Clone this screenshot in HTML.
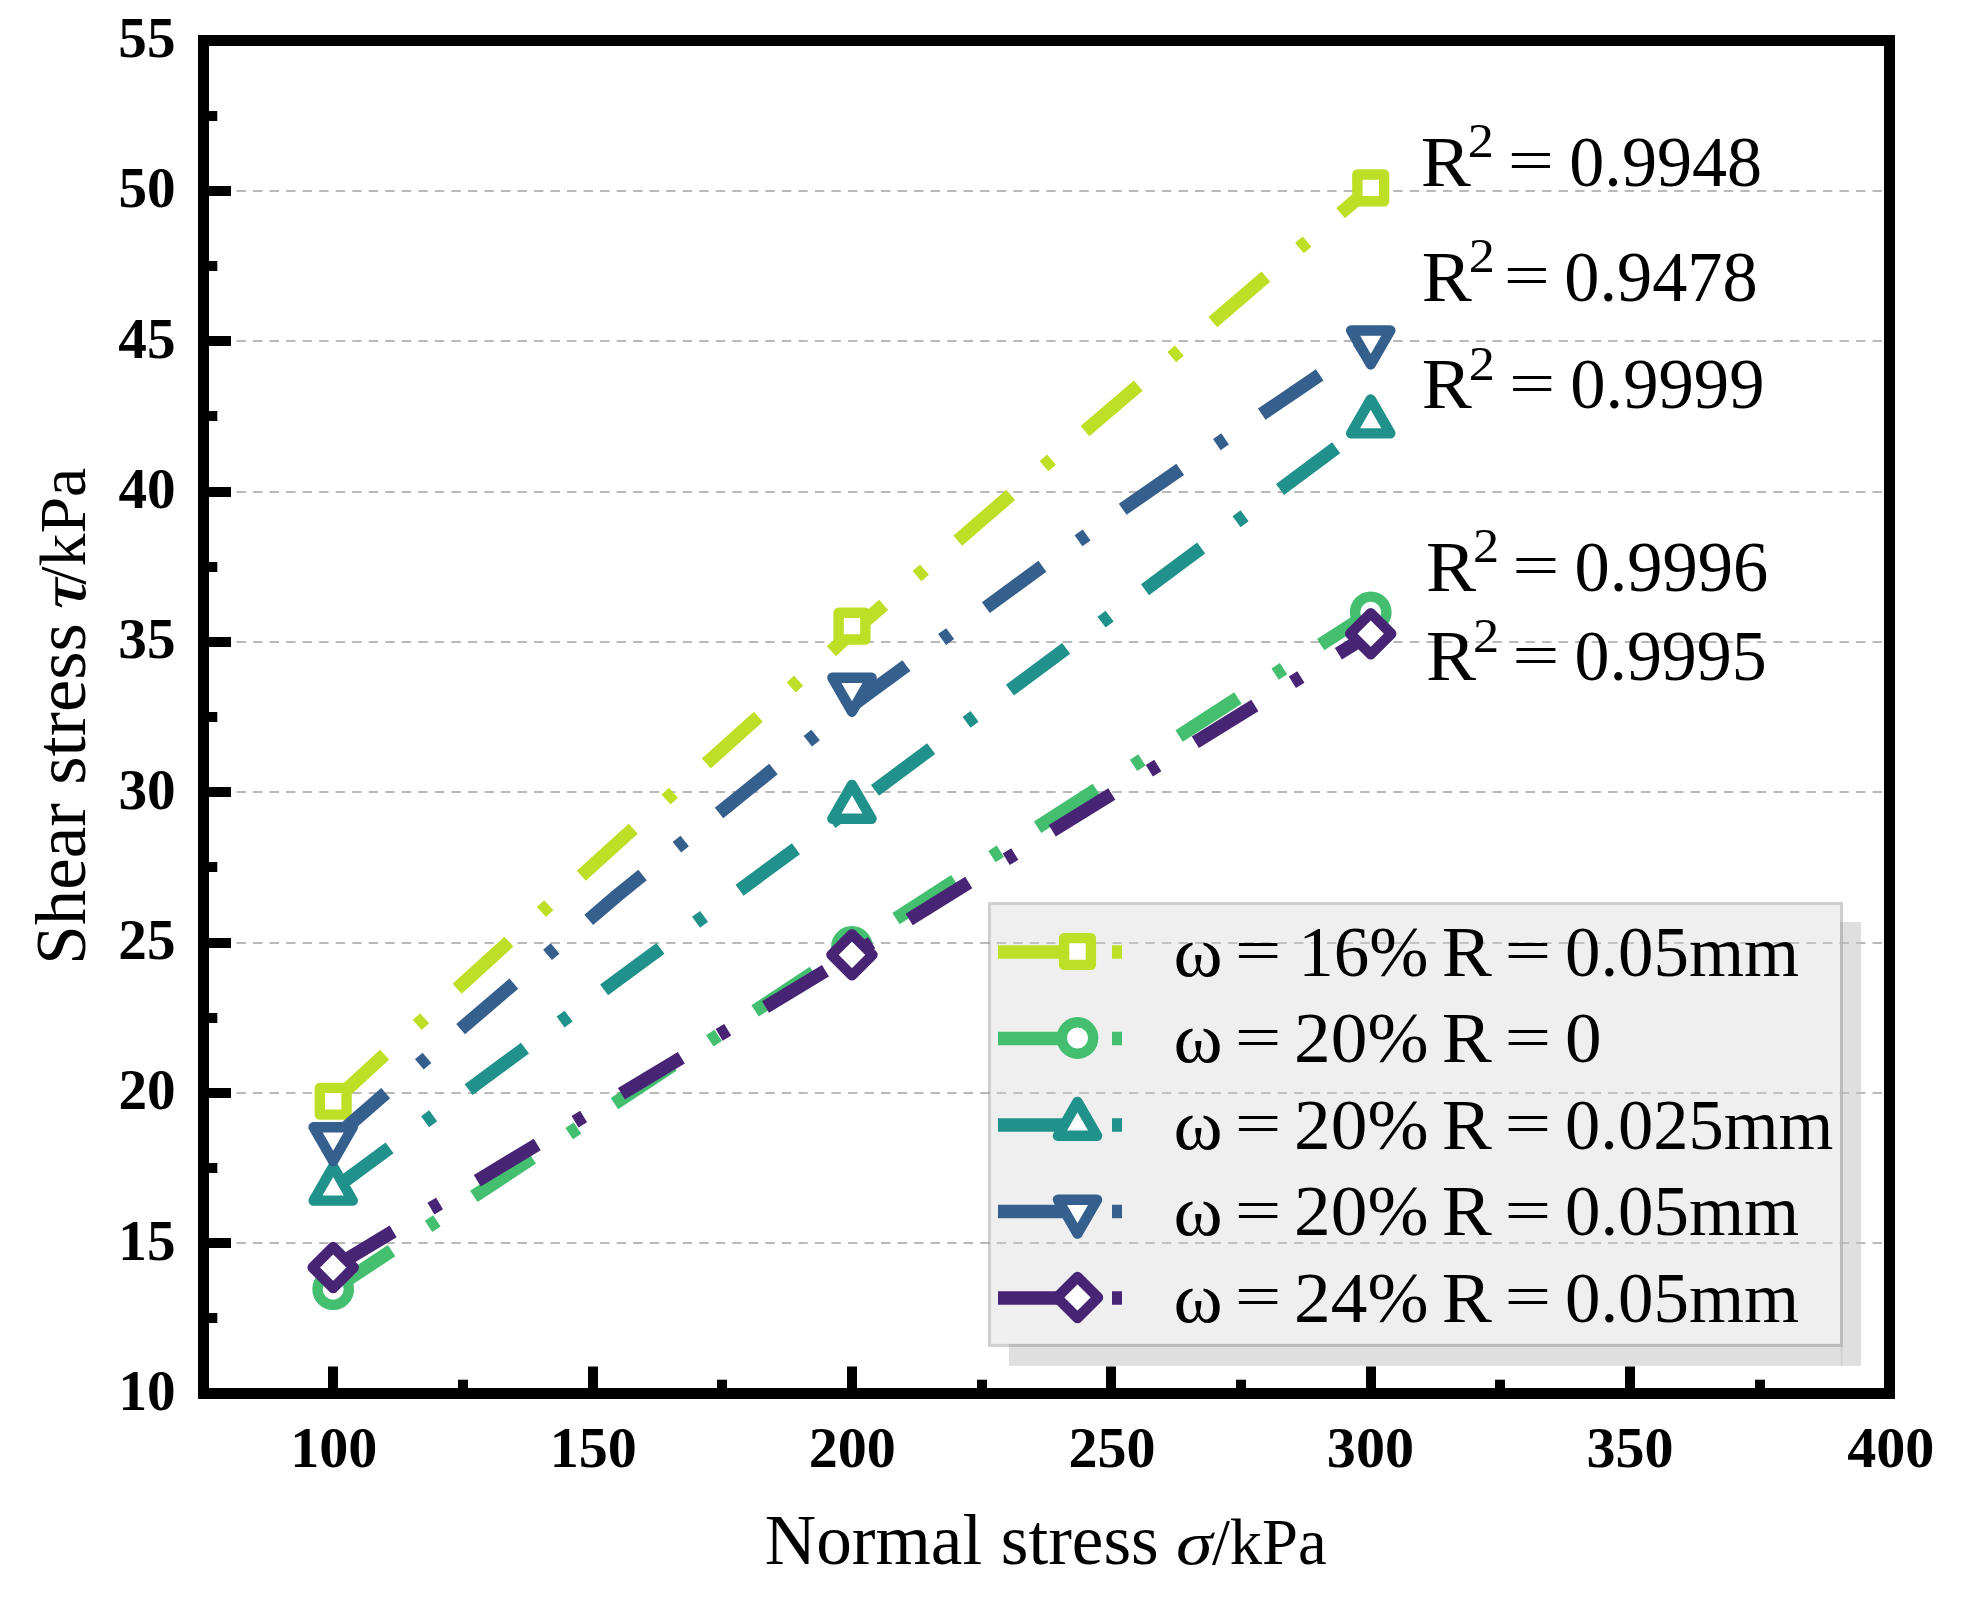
<!DOCTYPE html>
<html><head><meta charset="utf-8"><title>Shear stress vs normal stress</title>
<style>
html,body{margin:0;padding:0;background:#fff;overflow:hidden;}
svg{display:block;}
text{font-family:"Liberation Serif",serif;fill:#000;}
</style></head><body>
<svg width="1963" height="1601" viewBox="0 0 1963 1601">
<rect width="1963" height="1601" fill="#fff"/>
<g stroke="#b9b9b9" stroke-width="2.2" stroke-dasharray="9.4 7.125" fill="none">
<line x1="203.5" y1="1243.00" x2="1889.5" y2="1243.00"/>
<line x1="203.5" y1="1093.00" x2="1889.5" y2="1093.00"/>
<line x1="203.5" y1="943.00" x2="1889.5" y2="943.00"/>
<line x1="203.5" y1="792.00" x2="1889.5" y2="792.00"/>
<line x1="203.5" y1="642.00" x2="1889.5" y2="642.00"/>
<line x1="203.5" y1="492.00" x2="1889.5" y2="492.00"/>
<line x1="203.5" y1="341.00" x2="1889.5" y2="341.00"/>
<line x1="203.5" y1="191.00" x2="1889.5" y2="191.00"/>
</g>
<polyline points="333.10,1102.00 384.55,1054.77 607.50,851.90 830.40,652.20 851.90,632.40 883.40,605.10 1047.80,462.80 1212.20,322.70 1265.60,276.90 1340.60,213.10 1370.60,187.70" fill="none" stroke="#bddf26" stroke-width="13.5" stroke-dasharray="70 43.980 10 43.980" stroke-linejoin="round"/>
<rect x="319.82" y="1087.88" width="26.75" height="26.75" fill="#fff" stroke="#bddf26" stroke-width="10.4" stroke-linejoin="round"/>
<rect x="838.59" y="612.82" width="26.75" height="26.75" fill="#fff" stroke="#bddf26" stroke-width="10.4" stroke-linejoin="round"/>
<rect x="1357.36" y="174.45" width="26.75" height="26.75" fill="#fff" stroke="#bddf26" stroke-width="10.4" stroke-linejoin="round"/>
<polyline points="333.19,1289.17 851.96,947.01 1370.73,612.37" fill="none" stroke="#44bf70" stroke-width="13.5" stroke-dasharray="70 44.230 10 44.230" stroke-linejoin="round"/>
<circle cx="333.19" cy="1289.17" r="15.7" fill="#fff" stroke="#44bf70" stroke-width="10.4" stroke-linejoin="round"/>
<circle cx="851.96" cy="947.01" r="15.7" fill="#fff" stroke="#44bf70" stroke-width="10.4" stroke-linejoin="round"/>
<circle cx="1370.73" cy="612.37" r="15.7" fill="#fff" stroke="#44bf70" stroke-width="10.4" stroke-linejoin="round"/>
<polyline points="333.19,1189.35 851.96,807.50 1370.73,422.05" fill="none" stroke="#21918c" stroke-width="13.5" stroke-dasharray="70 44.100 10 44.100" stroke-linejoin="round"/>
<polygon points="333.19,1166.72 313.59,1200.66 352.79,1200.66" fill="#fff" stroke="#21918c" stroke-width="10.4" stroke-linejoin="round"/>
<polygon points="851.96,784.87 832.36,818.82 871.56,818.82" fill="#fff" stroke="#21918c" stroke-width="10.4" stroke-linejoin="round"/>
<polygon points="1370.73,399.41 1351.13,433.36 1390.33,433.36" fill="#fff" stroke="#21918c" stroke-width="10.4" stroke-linejoin="round"/>
<polyline points="333.00,1139.10 385.68,1093.06 616.62,896.00 851.90,705.50 1042.64,566.12 1123.09,509.01 1181.30,468.58 1261.74,414.17 1320.20,374.60 1370.70,341.60" fill="none" stroke="#355f8d" stroke-width="13.5" stroke-dasharray="70 44.225 10 44.225" stroke-linejoin="round"/>
<polygon points="333.19,1161.17 313.59,1127.22 352.79,1127.22" fill="#fff" stroke="#355f8d" stroke-width="10.4" stroke-linejoin="round"/>
<polygon points="851.96,711.67 832.36,677.72 871.56,677.72" fill="#fff" stroke="#355f8d" stroke-width="10.4" stroke-linejoin="round"/>
<polygon points="1370.73,364.40 1351.13,330.45 1390.33,330.45" fill="#fff" stroke="#355f8d" stroke-width="10.4" stroke-linejoin="round"/>
<polyline points="333.19,1267.52 851.96,954.83 1370.73,633.72" fill="none" stroke="#482475" stroke-width="13.5" stroke-dasharray="70 44.130 10 44.130" stroke-linejoin="round"/>
<polygon points="333.19,1246.97 353.74,1267.52 333.19,1288.07 312.64,1267.52" fill="#fff" stroke="#482475" stroke-width="10.4" stroke-linejoin="round"/>
<polygon points="851.96,934.28 872.51,954.83 851.96,975.38 831.41,954.83" fill="#fff" stroke="#482475" stroke-width="10.4" stroke-linejoin="round"/>
<polygon points="1370.73,613.17 1391.28,633.72 1370.73,654.27 1350.18,633.72" fill="#fff" stroke="#482475" stroke-width="10.4" stroke-linejoin="round"/>
<text transform="translate(1420.74,186.00) scale(1.0427,1)" font-size="72">R</text>
<text transform="translate(1467.70,157.30) scale(1.0801,1)" font-size="48.5">2</text>
<text transform="translate(1507.81,181.35) scale(1.1402,0.85)" font-size="72">=</text>
<text transform="translate(1569.33,186.00) scale(0.9734,1)" font-size="72">0.9948</text>
<text transform="translate(1421.64,300.60) scale(1.0427,1)" font-size="72">R</text>
<text transform="translate(1468.70,271.90) scale(1.0801,1)" font-size="48.5">2</text>
<text transform="translate(1503.82,295.95) scale(1.1372,0.85)" font-size="72">=</text>
<text transform="translate(1564.32,300.60) scale(0.9765,1)" font-size="72">0.9478</text>
<text transform="translate(1421.64,408.30) scale(1.0427,1)" font-size="72">R</text>
<text transform="translate(1468.70,379.60) scale(1.0801,1)" font-size="48.5">2</text>
<text transform="translate(1508.91,403.65) scale(1.1402,0.85)" font-size="72">=</text>
<text transform="translate(1570.31,408.30) scale(0.9807,1)" font-size="72">0.9999</text>
<text transform="translate(1425.94,590.90) scale(1.0427,1)" font-size="72">R</text>
<text transform="translate(1472.90,562.20) scale(1.0801,1)" font-size="48.5">2</text>
<text transform="translate(1512.33,586.25) scale(1.1640,0.85)" font-size="72">=</text>
<text transform="translate(1574.42,590.90) scale(0.9787,1)" font-size="72">0.9996</text>
<text transform="translate(1425.94,680.30) scale(1.0427,1)" font-size="72">R</text>
<text transform="translate(1472.90,651.60) scale(1.0801,1)" font-size="48.5">2</text>
<text transform="translate(1512.33,675.65) scale(1.1640,0.85)" font-size="72">=</text>
<text transform="translate(1574.44,680.30) scale(0.9712,1)" font-size="72">0.9995</text>
<rect x="1009" y="922" width="852" height="443.8" fill="#dfdfdf"/>
<rect x="1840.7" y="1346.9" width="1.8" height="18.9" fill="#d0d0d0"/>
<rect x="991" y="905" width="849" height="438.9" fill="#efefef"/>
<rect x="989.5" y="903.5" width="852" height="441.9" fill="none" stroke="#808080" stroke-opacity="0.38" stroke-width="3"/>
<g stroke="#b9b9b9" stroke-width="2.2" stroke-dasharray="9.4 7.125" fill="none" opacity="0.85">
<line x1="991" y1="1243.00" x2="1861" y2="1243.00" stroke-dashoffset="10.83"/>
<line x1="991" y1="1093.00" x2="1861" y2="1093.00" stroke-dashoffset="10.83"/>
<line x1="991" y1="943.00" x2="1861" y2="943.00" stroke-dashoffset="10.83"/>
</g>
<line x1="998" y1="952.0" x2="1068" y2="952.0" stroke="#bddf26" stroke-width="13.5"/>
<rect x="1112" y="945.25" width="10" height="13.5" fill="#bddf26"/>
<rect x="1064.12" y="938.12" width="26.75" height="26.75" fill="#fff" stroke="#bddf26" stroke-width="10.4" stroke-linejoin="round"/>
<text transform="translate(1173.48,976.00) scale(1.0367,1)" font-size="72">ω</text>
<text transform="translate(1234.68,971.35) scale(1.1491,0.85)" font-size="72">=</text>
<text transform="translate(1298.15,976.00) scale(0.9871,1)" font-size="72">16%</text>
<text transform="translate(1441.64,976.00) scale(1.0427,1)" font-size="72">R</text>
<text transform="translate(1504.47,971.35) scale(1.1521,0.85)" font-size="72">=</text>
<text transform="translate(1565.00,976.00) scale(0.9840,1)" font-size="72">0.05mm</text>
<line x1="998" y1="1038.5" x2="1068" y2="1038.5" stroke="#44bf70" stroke-width="13.5"/>
<rect x="1112" y="1031.75" width="10" height="13.5" fill="#44bf70"/>
<circle cx="1077.50" cy="1038.00" r="15.7" fill="#fff" stroke="#44bf70" stroke-width="10.4" stroke-linejoin="round"/>
<text transform="translate(1173.48,1062.45) scale(1.0367,1)" font-size="72">ω</text>
<text transform="translate(1234.68,1057.80) scale(1.1491,0.85)" font-size="72">=</text>
<text transform="translate(1294.08,1062.45) scale(1.0186,1)" font-size="72">20%</text>
<text transform="translate(1441.64,1062.45) scale(1.0427,1)" font-size="72">R</text>
<text transform="translate(1504.47,1057.80) scale(1.1521,0.85)" font-size="72">=</text>
<text transform="translate(1564.91,1062.45) scale(1.0159,1)" font-size="72">0</text>
<line x1="998" y1="1125.0" x2="1068" y2="1125.0" stroke="#21918c" stroke-width="13.5"/>
<rect x="1112" y="1118.25" width="10" height="13.5" fill="#21918c"/>
<polygon points="1077.50,1101.87 1057.90,1135.82 1097.10,1135.82" fill="#fff" stroke="#21918c" stroke-width="10.4" stroke-linejoin="round"/>
<text transform="translate(1173.48,1148.90) scale(1.0367,1)" font-size="72">ω</text>
<text transform="translate(1234.68,1144.25) scale(1.1491,0.85)" font-size="72">=</text>
<text transform="translate(1294.08,1148.90) scale(1.0186,1)" font-size="72">20%</text>
<text transform="translate(1441.64,1148.90) scale(1.0427,1)" font-size="72">R</text>
<text transform="translate(1504.47,1144.25) scale(1.1521,0.85)" font-size="72">=</text>
<text transform="translate(1565.01,1148.90) scale(0.9795,1)" font-size="72">0.025mm</text>
<line x1="998" y1="1211.5" x2="1068" y2="1211.5" stroke="#355f8d" stroke-width="13.5"/>
<rect x="1112" y="1204.75" width="10" height="13.5" fill="#355f8d"/>
<polygon points="1077.50,1233.63 1057.90,1199.68 1097.10,1199.68" fill="#fff" stroke="#355f8d" stroke-width="10.4" stroke-linejoin="round"/>
<text transform="translate(1173.48,1235.35) scale(1.0367,1)" font-size="72">ω</text>
<text transform="translate(1234.68,1230.70) scale(1.1491,0.85)" font-size="72">=</text>
<text transform="translate(1294.08,1235.35) scale(1.0186,1)" font-size="72">20%</text>
<text transform="translate(1441.64,1235.35) scale(1.0427,1)" font-size="72">R</text>
<text transform="translate(1504.47,1230.70) scale(1.1521,0.85)" font-size="72">=</text>
<text transform="translate(1565.00,1235.35) scale(0.9840,1)" font-size="72">0.05mm</text>
<line x1="998" y1="1298.0" x2="1068" y2="1298.0" stroke="#482475" stroke-width="13.5"/>
<rect x="1112" y="1291.25" width="10" height="13.5" fill="#482475"/>
<polygon points="1077.50,1276.95 1098.05,1297.50 1077.50,1318.05 1056.95,1297.50" fill="#fff" stroke="#482475" stroke-width="10.4" stroke-linejoin="round"/>
<text transform="translate(1173.48,1321.80) scale(1.0367,1)" font-size="72">ω</text>
<text transform="translate(1234.68,1317.15) scale(1.1491,0.85)" font-size="72">=</text>
<text transform="translate(1294.08,1321.80) scale(1.0186,1)" font-size="72">24%</text>
<text transform="translate(1441.64,1321.80) scale(1.0427,1)" font-size="72">R</text>
<text transform="translate(1504.47,1317.15) scale(1.1521,0.85)" font-size="72">=</text>
<text transform="translate(1565.00,1321.80) scale(0.9840,1)" font-size="72">0.05mm</text>
<rect x="203.5" y="40.5" width="1686.0" height="1353.0" fill="none" stroke="#000" stroke-width="11"/>
<g stroke="#000" stroke-width="10" fill="none">
<line x1="333.00" y1="1393.5" x2="333.00" y2="1366.5"/>
<line x1="593.00" y1="1393.5" x2="593.00" y2="1366.5"/>
<line x1="852.00" y1="1393.5" x2="852.00" y2="1366.5"/>
<line x1="1111.00" y1="1393.5" x2="1111.00" y2="1366.5"/>
<line x1="1371.00" y1="1393.5" x2="1371.00" y2="1366.5"/>
<line x1="1630.00" y1="1393.5" x2="1630.00" y2="1366.5"/>
<line x1="463.00" y1="1393.5" x2="463.00" y2="1379.7"/>
<line x1="722.00" y1="1393.5" x2="722.00" y2="1379.7"/>
<line x1="982.00" y1="1393.5" x2="982.00" y2="1379.7"/>
<line x1="1241.00" y1="1393.5" x2="1241.00" y2="1379.7"/>
<line x1="1500.00" y1="1393.5" x2="1500.00" y2="1379.7"/>
<line x1="1760.00" y1="1393.5" x2="1760.00" y2="1379.7"/>
<line x1="203.5" y1="1243.00" x2="231.0" y2="1243.00"/>
<line x1="203.5" y1="1093.00" x2="231.0" y2="1093.00"/>
<line x1="203.5" y1="943.00" x2="231.0" y2="943.00"/>
<line x1="203.5" y1="792.00" x2="231.0" y2="792.00"/>
<line x1="203.5" y1="642.00" x2="231.0" y2="642.00"/>
<line x1="203.5" y1="492.00" x2="231.0" y2="492.00"/>
<line x1="203.5" y1="341.00" x2="231.0" y2="341.00"/>
<line x1="203.5" y1="191.00" x2="231.0" y2="191.00"/>
<line x1="203.5" y1="1318.00" x2="217.3" y2="1318.00"/>
<line x1="203.5" y1="1168.00" x2="217.3" y2="1168.00"/>
<line x1="203.5" y1="1018.00" x2="217.3" y2="1018.00"/>
<line x1="203.5" y1="867.00" x2="217.3" y2="867.00"/>
<line x1="203.5" y1="717.00" x2="217.3" y2="717.00"/>
<line x1="203.5" y1="567.00" x2="217.3" y2="567.00"/>
<line x1="203.5" y1="416.00" x2="217.3" y2="416.00"/>
<line x1="203.5" y1="266.00" x2="217.3" y2="266.00"/>
<line x1="203.5" y1="116.00" x2="217.3" y2="116.00"/>
</g>
<text transform="translate(290.19,1466.90) scale(1.0150,1)" font-size="57.2" font-weight="bold">100</text>
<text transform="translate(549.79,1466.90) scale(1.0150,1)" font-size="57.2" font-weight="bold">150</text>
<text transform="translate(808.74,1466.90) scale(1.0150,1)" font-size="57.2" font-weight="bold">200</text>
<text transform="translate(1068.54,1466.90) scale(1.0150,1)" font-size="57.2" font-weight="bold">250</text>
<text transform="translate(1326.87,1466.90) scale(1.0150,1)" font-size="57.2" font-weight="bold">300</text>
<text transform="translate(1586.47,1466.90) scale(1.0150,1)" font-size="57.2" font-weight="bold">350</text>
<text transform="translate(1847.17,1466.90) scale(1.0150,1)" font-size="57.2" font-weight="bold">400</text>
<text transform="translate(118.38,1410.00) scale(1.0000,1)" font-size="57.2" font-weight="bold">10</text>
<text transform="translate(118.29,1259.67) scale(1.0000,1)" font-size="57.2" font-weight="bold">15</text>
<text transform="translate(118.38,1109.33) scale(1.0000,1)" font-size="57.2" font-weight="bold">20</text>
<text transform="translate(118.29,959.00) scale(1.0000,1)" font-size="57.2" font-weight="bold">25</text>
<text transform="translate(118.38,808.67) scale(1.0000,1)" font-size="57.2" font-weight="bold">30</text>
<text transform="translate(118.29,658.33) scale(1.0000,1)" font-size="57.2" font-weight="bold">35</text>
<text transform="translate(118.38,508.00) scale(1.0000,1)" font-size="57.2" font-weight="bold">40</text>
<text transform="translate(118.29,357.67) scale(1.0000,1)" font-size="57.2" font-weight="bold">45</text>
<text transform="translate(118.38,207.33) scale(1.0000,1)" font-size="57.2" font-weight="bold">50</text>
<text transform="translate(118.29,57.00) scale(1.0000,1)" font-size="57.2" font-weight="bold">55</text>
<text transform="translate(764.75,1563.90) scale(0.9888,1)" font-size="72">Normal</text>
<text transform="translate(1000.78,1563.90) scale(0.9874,1)" font-size="72">stress</text>
<text transform="translate(1176.09,1563.90) scale(1.1955,1)" font-size="62" font-style="italic">σ</text>
<text transform="translate(1211.90,1563.90) scale(0.9933,1)" font-size="65">/kPa</text>
<text transform="translate(84.60,964.64) rotate(-90) scale(0.9850,1)" font-size="72">Shear</text>
<text transform="translate(84.60,784.68) rotate(-90) scale(1.0101,1)" font-size="72">stress</text>
<text transform="translate(84.60,609.15) rotate(-90) scale(1.2743,1)" font-size="66" font-style="italic">τ</text>
<text transform="translate(84.60,584.80) rotate(-90) scale(1.0125,1)" font-size="65">/kPa</text>
</svg></body></html>
